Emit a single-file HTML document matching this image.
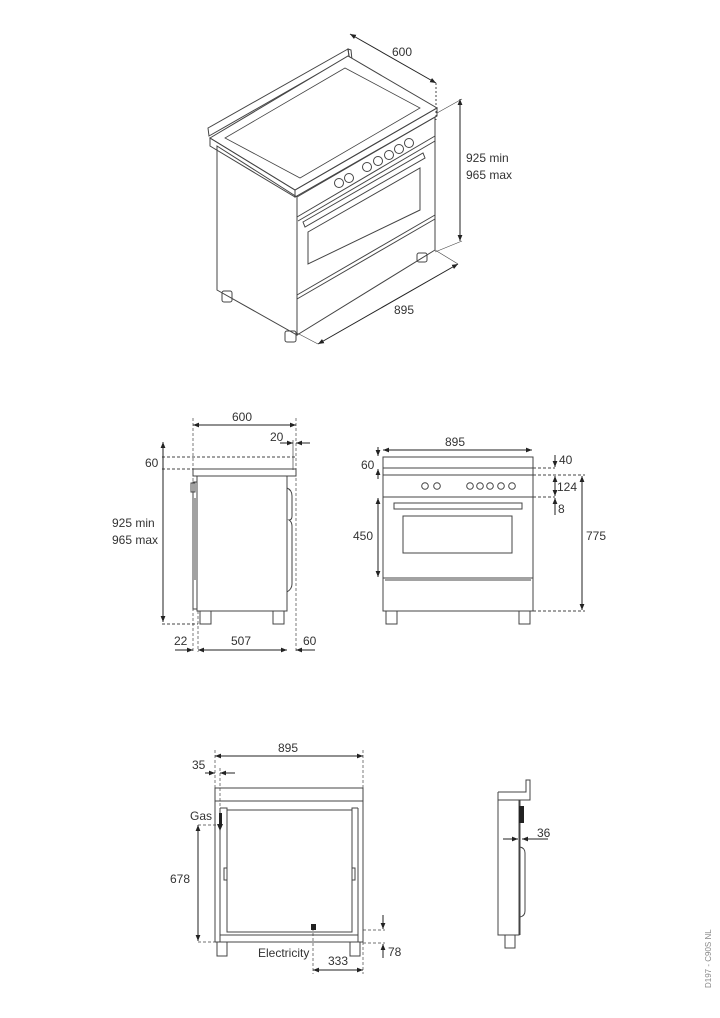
<!DOCTYPE html>
<html><head><meta charset="utf-8"><style>
html,body{margin:0;padding:0;background:#fff}
svg{display:block}
text{font-family:"Liberation Sans",sans-serif;font-size:12px;fill:#333}
</style></head><body>
<svg width="720" height="1018" viewBox="0 0 720 1018" xmlns="http://www.w3.org/2000/svg">
<defs>
<marker id="a" viewBox="0 0 10 10" refX="10" refY="5" markerWidth="6" markerHeight="6" orient="auto-start-reverse"><path d="M0,1L10,5L0,9z" fill="#222"/></marker>
</defs>
<g fill="none" stroke="#444" stroke-width="1">
<!-- ISOMETRIC -->
<polygon points="208,128 348,49 349,56 209,136" />
<polygon points="348,49 351,50 352,60 349,56"/>
<polygon points="210,138 348,56 437,108 295,190" fill="#fff"/>
<polygon points="210,138 295,190 295,197 210,146"/>
<polygon points="295,190 437,108 437,116 295,197"/>
<polygon points="225,138 345,68 420,108 300,178" stroke-width="0.8"/>
<polygon points="217,146 217,290 297,335 297,197"/>
<polygon points="297,197 435,117 435,250 297,335"/>
<line x1="297" y1="217" x2="435" y2="136"/>
<line x1="298" y1="221" x2="435" y2="141"/>
<polygon points="303,222 423,153 425,158 305,227"/>
<polygon points="308,232 420,168 420,210 308,264"/>
<line x1="297" y1="295" x2="435" y2="215"/>
<line x1="297" y1="299" x2="435" y2="219"/>
<g stroke-width="1">
<circle cx="339" cy="183" r="4.5"/><circle cx="349" cy="178" r="4.5"/>
<circle cx="367" cy="167" r="4.5"/><circle cx="378" cy="161" r="4.5"/><circle cx="389" cy="155" r="4.5"/><circle cx="399" cy="149" r="4.5"/><circle cx="409" cy="143" r="4.5"/>
</g>
<rect x="222" y="291" width="10" height="11" rx="2"/>
<rect x="285" y="331" width="11" height="11" rx="2"/>
<rect x="417" y="253" width="10" height="9" rx="2"/>
<!-- iso dims -->
<line x1="350" y1="34" x2="436" y2="83" stroke="#222" marker-start="url(#a)" marker-end="url(#a)"/>
<line x1="436" y1="83" x2="436" y2="120" stroke-dasharray="2,2"/>
<line x1="460" y1="99" x2="460" y2="241" stroke="#222" marker-start="url(#a)" marker-end="url(#a)"/>
<line x1="437" y1="113" x2="462" y2="99" stroke-width="0.6"/>
<line x1="435" y1="252" x2="462" y2="241" stroke-width="0.6"/>
<line x1="318" y1="344" x2="458" y2="264" stroke="#222" marker-start="url(#a)" marker-end="url(#a)"/>
<line x1="297" y1="333" x2="318" y2="344" stroke-width="0.6"/>
<line x1="435" y1="250" x2="458" y2="264" stroke-width="0.6"/>

<!-- SIDE VIEW -->
<rect x="193" y="469" width="103" height="7"/>
<line x1="162" y1="457" x2="296" y2="457" stroke-dasharray="3,2"/>
<line x1="162" y1="469" x2="193" y2="469" stroke-dasharray="3,2"/>
<line x1="193" y1="418" x2="193" y2="652" stroke-dasharray="3,2" stroke-width="0.7"/>
<line x1="198" y1="611" x2="198" y2="652" stroke-dasharray="3,2" stroke-width="0.7"/>
<line x1="296" y1="418" x2="296" y2="652" stroke-dasharray="3,2" stroke-width="0.7"/>
<line x1="293" y1="440" x2="293" y2="470" stroke-width="0.7"/>
<rect x="197" y="476" width="90" height="135"/>
<polyline points="197,482 193,482 193,609 197,609"/>
<rect x="191" y="483" width="4" height="9"/>
<line x1="195" y1="498" x2="195" y2="580"/>
<path d="M287,488 q5,2 5,8 v20 q0,4 -3,4 q3,2 3,6 v58 q0,5 -5,8"/>
<rect x="200" y="611" width="11" height="13"/>
<rect x="273" y="611" width="11" height="13"/>
<line x1="162" y1="624" x2="198" y2="624" stroke-dasharray="3,2"/>
<line x1="193" y1="425" x2="296" y2="425" stroke="#222" marker-start="url(#a)" marker-end="url(#a)"/>
<line x1="280" y1="443" x2="293" y2="443" stroke="#222" marker-end="url(#a)"/>
<line x1="310" y1="443" x2="296" y2="443" stroke="#222" marker-end="url(#a)"/>
<line x1="163" y1="442" x2="163" y2="622" stroke="#222" marker-start="url(#a)" marker-end="url(#a)"/>
<line x1="175" y1="650" x2="193" y2="650" stroke="#222" marker-end="url(#a)"/>
<line x1="198" y1="650" x2="287" y2="650" stroke="#222" marker-start="url(#a)" marker-end="url(#a)"/>
<line x1="315" y1="650" x2="296" y2="650" stroke="#222" marker-end="url(#a)"/>

<!-- FRONT VIEW -->
<rect x="383" y="457" width="150" height="154"/>
<line x1="383" y1="468" x2="533" y2="468"/>
<line x1="383" y1="475" x2="533" y2="475"/>
<line x1="383" y1="497" x2="533" y2="497"/>
<rect x="394" y="503" width="128" height="6"/>
<rect x="403" y="516" width="109" height="37"/>
<line x1="383" y1="578" x2="533" y2="578"/>
<line x1="385" y1="580" x2="531" y2="580"/>
<circle cx="425" cy="486" r="3.3"/><circle cx="437" cy="486" r="3.3"/>
<circle cx="470" cy="486" r="3.3"/><circle cx="480" cy="486" r="3.3"/><circle cx="490" cy="486" r="3.3"/><circle cx="501" cy="486" r="3.3"/><circle cx="512" cy="486" r="3.3"/>
<rect x="386" y="611" width="11" height="13"/>
<rect x="519" y="611" width="11" height="13"/>
<line x1="383" y1="450" x2="532" y2="450" stroke="#222" marker-start="url(#a)" marker-end="url(#a)"/>
<line x1="378" y1="447" x2="378" y2="456" stroke="#222" marker-end="url(#a)"/>
<line x1="378" y1="479" x2="378" y2="469" stroke="#222" marker-end="url(#a)"/>
<line x1="378" y1="498" x2="378" y2="577" stroke="#222" marker-start="url(#a)" marker-end="url(#a)"/>
<line x1="533" y1="468" x2="555" y2="468" stroke-dasharray="3,2"/>
<line x1="533" y1="475" x2="585" y2="475" stroke-dasharray="3,2"/>
<line x1="533" y1="497" x2="555" y2="497" stroke-dasharray="3,2"/>
<line x1="533" y1="611" x2="585" y2="611" stroke-dasharray="3,2"/>
<line x1="555" y1="455" x2="555" y2="467" stroke="#222" marker-end="url(#a)"/>
<line x1="555" y1="476" x2="555" y2="496" stroke="#222" marker-start="url(#a)" marker-end="url(#a)"/>
<line x1="555" y1="515" x2="555" y2="498" stroke="#222" marker-end="url(#a)"/>
<line x1="582" y1="476" x2="582" y2="610" stroke="#222" marker-start="url(#a)" marker-end="url(#a)"/>

<!-- BACK VIEW -->
<rect x="215" y="788" width="148" height="13"/>
<line x1="215" y1="801" x2="215" y2="942"/>
<line x1="363" y1="801" x2="363" y2="942"/>
<line x1="220" y1="808" x2="220" y2="942"/>
<line x1="358" y1="808" x2="358" y2="942"/>
<polyline points="220,808 227,808 227,932 352,932 352,808 358,808"/>
<line x1="227" y1="810" x2="352" y2="810"/>
<line x1="220" y1="935" x2="358" y2="935"/>
<line x1="215" y1="942" x2="363" y2="942"/>
<path d="M227,868 h-3 v12 h3 M352,868 h3 v12 h-3"/>
<rect x="217" y="942" width="10" height="14"/>
<rect x="350" y="942" width="10" height="14"/>
<line x1="215" y1="750" x2="215" y2="788" stroke-dasharray="3,2" stroke-width="0.7"/>
<line x1="363" y1="750" x2="363" y2="788" stroke-dasharray="3,2" stroke-width="0.7"/>
<line x1="220" y1="768" x2="220" y2="808" stroke-dasharray="3,2" stroke-width="0.7"/>
<line x1="215" y1="756" x2="363" y2="756" stroke="#222" marker-start="url(#a)" marker-end="url(#a)"/>
<line x1="205" y1="773" x2="215" y2="773" stroke="#222" marker-end="url(#a)"/>
<line x1="235" y1="773" x2="220" y2="773" stroke="#222" marker-end="url(#a)"/>
<line x1="198" y1="825" x2="198" y2="941" stroke="#222" marker-start="url(#a)" marker-end="url(#a)"/>
<line x1="198" y1="825" x2="218" y2="825" stroke-dasharray="3,2" stroke-width="0.7"/>
<line x1="198" y1="942" x2="215" y2="942" stroke-dasharray="3,2" stroke-width="0.7"/>
<line x1="363" y1="930" x2="385" y2="930" stroke-dasharray="3,2" stroke-width="0.7"/>
<line x1="363" y1="943" x2="385" y2="943" stroke-dasharray="3,2" stroke-width="0.7"/>
<line x1="383" y1="915" x2="383" y2="929" stroke="#222" marker-end="url(#a)"/>
<line x1="383" y1="958" x2="383" y2="944" stroke="#222" marker-end="url(#a)"/>
<line x1="313" y1="928" x2="313" y2="974" stroke-dasharray="3,2" stroke-width="0.7"/>
<line x1="363" y1="942" x2="363" y2="974" stroke-dasharray="3,2" stroke-width="0.7"/>
<line x1="313" y1="970" x2="363" y2="970" stroke="#222" marker-start="url(#a)" marker-end="url(#a)"/>

<!-- SMALL SIDE -->
<polyline points="498,800 498,935 519,935 519,800"/>
<polyline points="498,792 526,792 526,780 530,780 530,800 498,800 498,792"/>
<path d="M520,847 q5,1 5,6 v58 q0,5 -5,6"/>
<line x1="520" y1="800" x2="520" y2="935"/>
<rect x="505" y="935" width="10" height="13"/>
<line x1="503" y1="839" x2="518" y2="839" stroke="#222" marker-end="url(#a)"/>
<line x1="548" y1="839" x2="522" y2="839" stroke="#222" marker-end="url(#a)"/>
</g>
<rect x="519" y="806" width="5" height="17" fill="#222"/>
<rect x="219" y="813" width="3" height="13" fill="#222"/>
<path d="M217,824 L220,831 L223,824z" fill="#222"/>
<rect x="311" y="924" width="5" height="6" fill="#222"/>

<text x="392" y="56">600</text>
<text x="466" y="162">925 min</text>
<text x="466" y="179">965 max</text>
<text x="394" y="314">895</text>
<text x="232" y="421">600</text>
<text x="270" y="441">20</text>
<text x="145" y="467">60</text>
<text x="112" y="527">925 min</text>
<text x="112" y="544">965 max</text>
<text x="174" y="645">22</text>
<text x="231" y="645">507</text>
<text x="303" y="645">60</text>
<text x="445" y="446">895</text>
<text x="361" y="469">60</text>
<text x="559" y="464">40</text>
<text x="557" y="491">124</text>
<text x="558" y="513">8</text>
<text x="353" y="540">450</text>
<text x="586" y="540">775</text>
<text x="278" y="752">895</text>
<text x="192" y="769">35</text>
<text x="190" y="820">Gas</text>
<text x="170" y="883">678</text>
<text x="388" y="956">78</text>
<text x="258" y="957">Electricity</text>
<text x="328" y="965">333</text>
<text x="537" y="837">36</text>
<text transform="translate(711,988) rotate(-90)" style="font-size:8px;fill:#888">D197 - C90S NL</text>
</svg>
</body></html>
